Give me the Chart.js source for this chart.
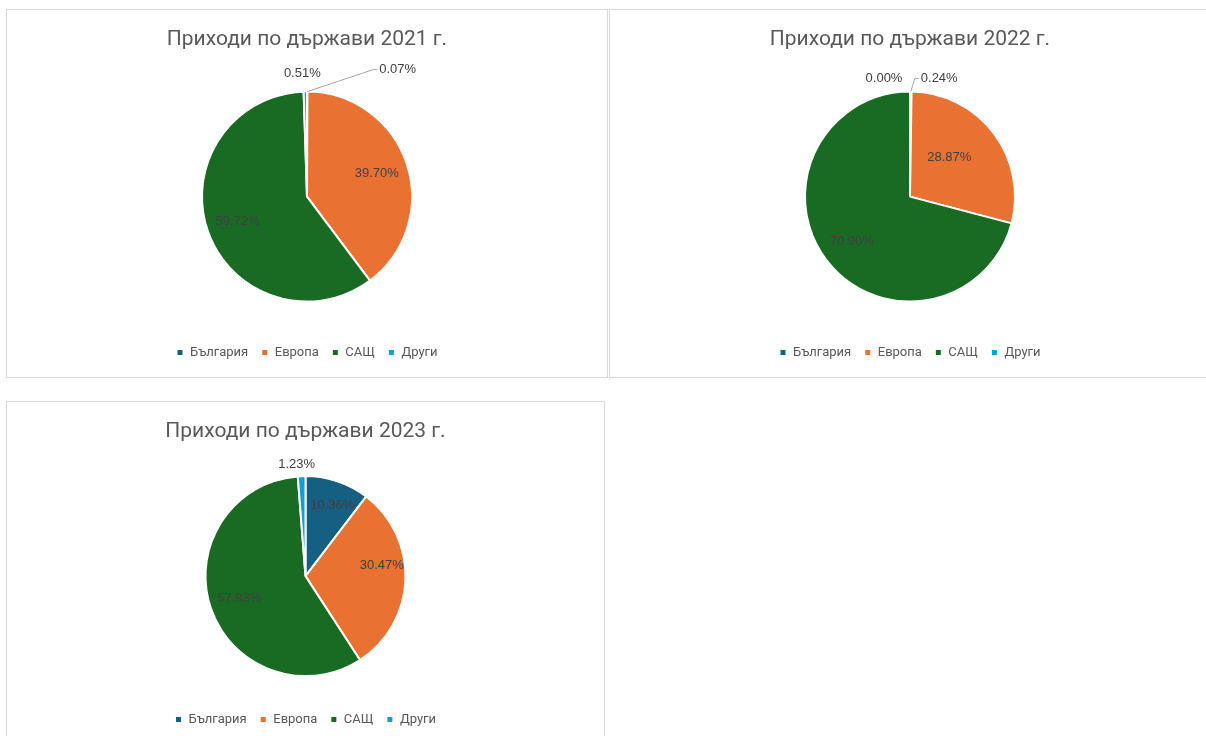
<!DOCTYPE html>
<html>
<head>
<meta charset="utf-8">
<script src="https://cdn.jsdelivr.net/npm/chart.js@4.4.1/dist/chart.umd.min.js"></script>
<style>
body { margin: 0; background: #fff; width: 1206px; height: 736px; overflow: hidden; position: relative; }
.panel { position: absolute; border: 1px solid #d9d9d9; background: #fff; }
.panel canvas { display: block; }
</style>
</head>
<body>
<div class="panel" style="left:6px;top:9px;width:600px;height:367px"><canvas id="pie2021" width="600" height="367"></canvas></div>
<div class="panel" style="left:609px;top:9px;width:600px;height:367px"><canvas id="pie2022" width="600" height="367"></canvas></div>
<div class="panel" style="left:6px;top:401px;width:597px;height:346px"><canvas id="pie2023" width="597" height="342"></canvas></div>

<script>
const categories = ['България', 'Европа', 'САЩ', 'Други'];
const colors = ['#156082', '#E97132', '#196B24', '#0F9ED5'];

const values2021 = [0.07, 39.70, 59.72, 0.51];
const values2022 = [0.24, 28.87, 70.90, 0.00];
const values2023 = [10.36, 30.47, 57.93, 1.23];

const title2021 = 'Приходи по държави 2021 г.';
const title2022 = 'Приходи по държави 2022 г.';
const title2023 = 'Приходи по държави 2023 г.';

const FONT = 'Roboto';
const LABEL_FONT = '"Liberation Sans", Arial, sans-serif';

// percent labels: inside for big slices, above the pie for tiny ones
const pieLabels = {
    id: 'pieLabels',
    afterDatasetsDraw(chart, args, opts) {
        const ctx = chart.ctx;
        const meta = chart.getDatasetMeta(0);
        const data = chart.data.datasets[0].data;
        const outside = opts.outside || {};
        const inside = opts.inside || {};
        ctx.save();
        ctx.font = '13px ' + LABEL_FONT;
        ctx.fillStyle = '#404040';
        ctx.textBaseline = 'middle';
        meta.data.forEach((arc, i) => {
            const p = arc.getProps(['x', 'y', 'startAngle', 'endAngle', 'outerRadius'], true);
            const mid = (p.startAngle + p.endAngle) / 2;
            const text = data[i].toFixed(2) + '%';
            const o = outside[i];
            if (!o) {
                const fit = inside[i] || {};
                const r = p.outerRadius * (fit.r || 0.7);
                const a = mid + (fit.da || 0) * Math.PI / 180;
                ctx.textAlign = 'center';
                ctx.fillText(text, p.x + Math.cos(a) * r, p.y + Math.sin(a) * r);
                return;
            }
            const ex = p.x + Math.cos(mid) * p.outerRadius;
            const ey = p.y + Math.sin(mid) * p.outerRadius;
            const tx = ex + o.dx;
            const ty = ey + o.dy;
            if (o.leader) {
                ctx.strokeStyle = '#a6a6a6';
                ctx.lineWidth = 1;
                ctx.beginPath();
                ctx.moveTo(ex, ey);
                ctx.lineTo(tx - 6, ty);
                ctx.lineTo(tx - 2, ty);
                ctx.stroke();
                ctx.textAlign = 'left';
            } else {
                ctx.textAlign = 'center';
            }
            ctx.fillText(text, tx, ty);
        });
        ctx.restore();
    }
};

function makePie(id, values, title, radius, outside, inside) {
    new Chart(document.getElementById(id), {
        type: 'pie',
        data: {
            labels: categories,
            datasets: [{
                data: values,
                backgroundColor: colors,
                borderColor: '#ffffff',
                borderWidth: 2
            }]
        },
        options: {
            responsive: false,
            animation: false,
            radius: radius,
            layout: { padding: { bottom: 8 } },
            plugins: {
                title: {
                    display: true,
                    text: title,
                    color: '#595959',
                    font: { family: FONT, size: 21, weight: 'normal' },
                    padding: { top: 17, bottom: 8 }
                },
                legend: {
                    position: 'bottom',
                    labels: {
                        boxWidth: 7,
                        boxHeight: 7,
                        color: '#595959',
                        font: { family: FONT, size: 13 },
                        padding: 13
                    }
                },
                tooltip: { enabled: false },
                pieLabels: { outside: outside, inside: inside || {} }
            }
        },
        plugins: [pieLabels]
    });
}

makePie('pie2021', values2021, title2021, 105, {
    0: { dx: 72, dy: -22, leader: true },
    3: { dx: -3, dy: -18 }
});
makePie('pie2022', values2022, title2022, 105, {
    0: { dx: 10, dy: -13, leader: true },
    3: { dx: -26, dy: -13 }
}, {
    1: { r: 0.53, da: -8 }
});
makePie('pie2023', values2023, title2023, 100, {
    3: { dx: -5, dy: -12 }
}, {
    0: { r: 0.76, da: 2 },
    1: { r: 0.77, da: -10 }
});
</script>
</body>
</html>
